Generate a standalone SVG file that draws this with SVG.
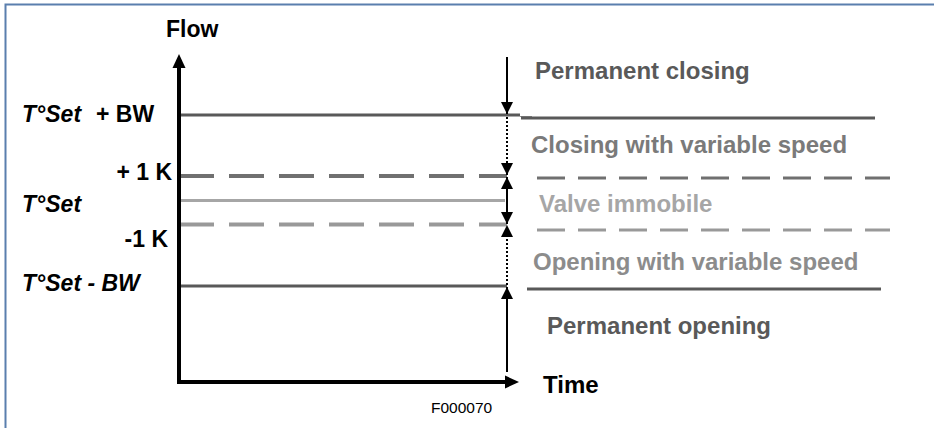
<svg xmlns="http://www.w3.org/2000/svg" width="934" height="428" viewBox="0 0 934 428">
<defs>
<style>
.lbl{font-family:"Liberation Sans",Arial,sans-serif;font-weight:bold;font-size:23px;fill:#000}
.it{font-style:italic}
.zone{font-family:"Liberation Sans",Arial,sans-serif;font-weight:bold;font-size:24px}
.dark{stroke:#595959;stroke-width:3;fill:none}
.dash1{stroke:#707070;stroke-width:4;stroke-dasharray:35 15;fill:none}
.dash2{stroke:#999999;stroke-width:4;stroke-dasharray:35 15;fill:none}
.dashR1{stroke:#707070;stroke-width:3;stroke-dasharray:28 13;fill:none}
.dashR2{stroke:#999999;stroke-width:3;stroke-dasharray:28 13;fill:none}
.arr{stroke:#000;stroke-width:2;fill:none}
.dot{stroke:#000;stroke-width:2;stroke-dasharray:2 2;fill:none}
</style>
<marker id="ah2" viewBox="0 0 10 10" refX="10" refY="5" markerWidth="12" markerHeight="13" markerUnits="userSpaceOnUse" orient="auto">
<path d="M0,0 L10,5 L0,10 Z" fill="#000"/>
</marker>
</defs>
<rect width="934" height="428" fill="#fff"/>
<path d="M5.5,428 V4.5 H934" stroke="#5a7fae" stroke-width="2" fill="none"/>

<g id="levels">
<line class="dark" x1="179" y1="115" x2="520" y2="115"/>
<line x1="520" y1="116.5" x2="532" y2="116.5" stroke="#8c8c8c" stroke-width="1"/>
<line class="dark" x1="521" y1="118" x2="875" y2="118"/>
<line class="dash1" x1="179" y1="176" x2="507" y2="176"/>
<line class="dashR1" x1="537" y1="178" x2="890" y2="178"/>
<line x1="179" y1="200.5" x2="505" y2="200.5" stroke="#a6a6a6" stroke-width="3"/>
<line class="dash2" x1="179" y1="224.5" x2="507" y2="224.5"/>
<line class="dashR2" x1="537" y1="230" x2="890" y2="230"/>
<line class="dark" x1="179" y1="286" x2="507" y2="286"/>
<line class="dark" x1="527" y1="289" x2="881" y2="289"/>
</g>

<g id="axes">
<line x1="179" y1="382" x2="179" y2="66" stroke="#000" stroke-width="4"/>
<path d="M172.5,68 L179,54 L185.5,68 Z" fill="#000"/>
<line x1="177" y1="382" x2="508" y2="382" stroke="#000" stroke-width="4"/>
<path d="M505,375.5 L519,382 L505,388.5 Z" fill="#000"/>
</g>

<g id="connectors">
<line class="arr" x1="507" y1="57" x2="507" y2="114" marker-end="url(#ah2)"/>
<line class="dot" x1="507" y1="117" x2="507" y2="175" marker-end="url(#ah2)"/>
<line class="arr" x1="507" y1="200" x2="507" y2="177" marker-end="url(#ah2)"/>
<line class="arr" x1="507" y1="200" x2="507" y2="224" marker-end="url(#ah2)"/>
<line class="dot" x1="507" y1="285" x2="507" y2="225" marker-end="url(#ah2)"/>
<line class="arr" x1="507" y1="372" x2="507" y2="287" marker-end="url(#ah2)"/>
</g>

<g id="axis-labels">
<text class="lbl" x="166" y="37">Flow</text>
<text class="zone" x="543" y="393" fill="#000">Time</text>
<text x="431" y="413" font-family="Liberation Sans, Arial, sans-serif" font-size="15.5" fill="#000">F000070</text>
</g>

<g id="level-labels">
<text class="lbl" x="22" y="122"><tspan class="it">T°Set</tspan><tspan x="96">+ BW</tspan></text>
<text class="lbl" x="172" y="180" text-anchor="end">+ 1 K</text>
<text class="lbl it" x="22" y="212">T°Set</text>
<text class="lbl" x="168" y="247" text-anchor="end">-1 K</text>
<text class="lbl it" x="22" y="291">T°Set - BW</text>
</g>

<g id="zone-labels">
<text class="zone" x="535" y="79" fill="#595959">Permanent closing</text>
<text class="zone" x="531" y="153" fill="#7a7a7a">Closing with variable speed</text>
<text class="zone" x="539" y="212" fill="#a6a6a6">Valve immobile</text>
<text class="zone" x="533" y="270" fill="#8c8c8c">Opening with variable speed</text>
<text class="zone" x="547" y="334" fill="#595959">Permanent opening</text>
</g>
</svg>
